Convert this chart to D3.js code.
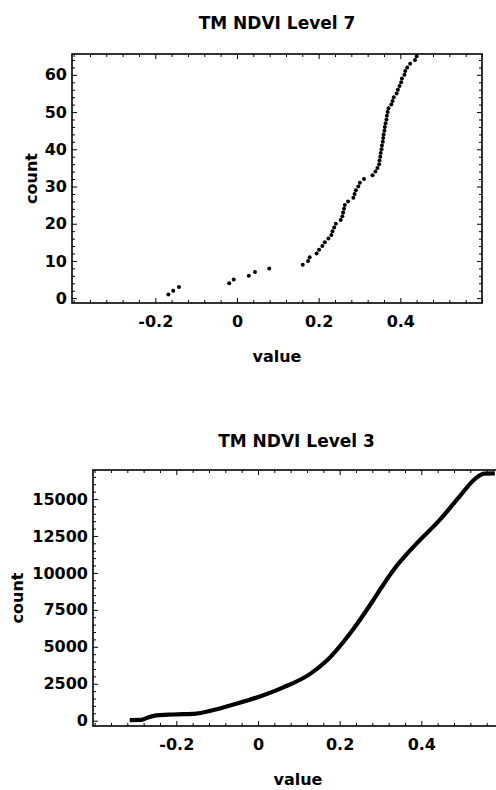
<!DOCTYPE html>
<html>
<head>
<meta charset="utf-8">
<script src="https://cdn.jsdelivr.net/npm/d3@7"></script>
<style>
  body { margin: 0; background: #fff; }
  text { font-family: "DejaVu Sans", sans-serif; font-weight: bold; fill: #000; }
</style>
</head>
<body>
<script>
// ---- data: TM NDVI Level 7 (cumulative count of sorted values)
const level7Values = [-0.168, -0.156, -0.142, -0.019, -0.008, 0.029, 0.044, 0.079, 0.161, 0.174,
  0.178, 0.195, 0.201, 0.209, 0.215, 0.224, 0.231, 0.234, 0.238, 0.242,
  0.254, 0.258, 0.260, 0.262, 0.264, 0.272, 0.285, 0.288, 0.291, 0.297,
  0.301, 0.311, 0.332, 0.339, 0.344, 0.348, 0.349, 0.351, 0.352, 0.354,
  0.355, 0.357, 0.358, 0.359, 0.361, 0.362, 0.364, 0.366, 0.367, 0.369,
  0.371, 0.378, 0.381, 0.384, 0.391, 0.394, 0.398, 0.402, 0.404, 0.410,
  0.412, 0.417, 0.424, 0.436, 0.440];
const level7Counts = [1, 2, 3, 4, 5, 6, 7, 8, 9, 10, 11, 12, 13, 14, 15, 16, 17, 18, 19, 20,
  21, 22, 23, 24, 25, 26, 27, 28, 29, 30, 31, 32, 33, 34, 35, 36, 37, 38, 39, 40,
  41, 42, 43, 44, 45, 46, 47, 48, 49, 50, 51, 52, 53, 54, 55, 56, 57, 58, 59, 60,
  61, 62, 63, 64, 65];

// ---- data: TM NDVI Level 3 (cumulative curve)
const level3Values = [-0.314, -0.286, -0.271, -0.255, -0.207, -0.151, -0.109, -0.060, 0.005,
  0.062, 0.127, 0.168, 0.224, 0.281, 0.308, 0.336, 0.362, 0.387, 0.444, 0.493, 0.533, 0.554, 0.580];
const level3Counts = [40, 50, 200, 330, 420, 480, 720, 1090, 1640,
  2250, 3150, 4050, 5850, 8100, 9250, 10350, 11200, 11950, 13550, 15150, 16400, 16720, 16740];

// ---- ticks
const xMajor = [-0.2, 0, 0.2, 0.4];
const xMinor = [-0.4, -0.36, -0.32, -0.28, -0.24, -0.16, -0.12, -0.08, -0.04, 0.04, 0.08, 0.12, 0.16,
  0.24, 0.28, 0.32, 0.36, 0.44, 0.48, 0.52, 0.56, 0.6];
const y7Major = [0, 10, 20, 30, 40, 50, 60];
const y7Minor = [2, 4, 6, 8, 12, 14, 16, 18, 22, 24, 26, 28, 32, 34, 36, 38, 42, 44, 46, 48,
  52, 54, 56, 58, 62, 64];
const y3Major = [0, 2500, 5000, 7500, 10000, 12500, 15000];
const y3Minor = [500, 1000, 1500, 2000, 3000, 3500, 4000, 4500, 5500, 6000, 6500, 7000,
  8000, 8500, 9000, 9500, 10500, 11000, 11500, 12000, 13000, 13500, 14000, 14500, 15500, 16000, 16500];

const width = 496, height = 790;
const svg = d3.select("body").append("svg")
  .attr("width", width).attr("height", height)
  .style("display", "block");
svg.append("rect").attr("width", width).attr("height", height).attr("fill", "#fff");

const fmtX = d => d === 0 ? "0" : d3.format(".1f")(d).replace("−", "-");

function framePanel(cfg) {
  const {x, y, title, titleY, yMajor, yMinor, countX} = cfg;
  const [l, r] = x.range();
  const [b, t] = y.range();
  const g = svg.append("g");

  // inward ticks on all four sides
  const bottom = g.append("g").attr("transform", `translate(0,${b})`);
  bottom.call(d3.axisBottom(x).tickValues(xMinor).tickSize(-3).tickFormat(""));
  bottom.append("g").call(d3.axisBottom(x).tickValues(xMajor).tickSize(-5).tickPadding(13).tickFormat(fmtX));
  const top = g.append("g").attr("transform", `translate(0,${t})`);
  top.call(d3.axisTop(x).tickValues(xMinor).tickSize(-3).tickFormat(""));
  top.append("g").call(d3.axisTop(x).tickValues(xMajor).tickSize(-5).tickFormat(""));
  const left = g.append("g").attr("transform", `translate(${l},0)`);
  left.call(d3.axisLeft(y).tickValues(yMinor).tickSize(-3).tickFormat(""));
  left.append("g").call(d3.axisLeft(y).tickValues(yMajor).tickSize(-5).tickPadding(5).tickFormat(d3.format("d")));
  const right = g.append("g").attr("transform", `translate(${r},0)`);
  right.call(d3.axisRight(y).tickValues(yMinor).tickSize(-3).tickFormat(""));
  right.append("g").call(d3.axisRight(y).tickValues(yMajor).tickSize(-5).tickFormat(""));

  g.selectAll(".domain").remove();
  g.selectAll(".tick line").attr("stroke", "#000").attr("stroke-width", 1);
  g.selectAll(".tick text")
    .style("font-family", '"DejaVu Sans", sans-serif')
    .style("font-weight", "bold")
    .style("font-size", "16px")
    .attr("fill", "#000");

  g.append("rect")
    .attr("x", l).attr("y", t)
    .attr("width", r - l).attr("height", b - t)
    .attr("fill", "none").attr("stroke", "#000").attr("stroke-width", 1.6);

  g.append("text")
    .attr("x", (l + Math.min(r, width)) / 2 + (r > width ? 2 : 0))
    .attr("y", titleY)
    .attr("text-anchor", "middle")
    .style("font-size", "17px")
    .text(title);

  g.append("text")
    .attr("x", (l + r) / 2)
    .attr("y", b + 59)
    .attr("text-anchor", "middle")
    .style("font-size", "16px")
    .text("value");

  g.append("text")
    .attr("transform", `translate(${countX},${(t + b) / 2}) rotate(-90)`)
    .attr("text-anchor", "middle")
    .style("font-size", "16px")
    .text("count");
}

// ---- top panel
const x7 = d3.scaleLinear().domain([-0.404, 0.6]).range([72, 482]);
const y7 = d3.scaleLinear().domain([-1.3, 65.6]).range([303, 54]);
framePanel({x: x7, y: y7, title: "TM NDVI Level 7", titleY: 29, yMajor: y7Major, yMinor: y7Minor, countX: 37});

svg.append("g").selectAll("circle")
  .data(level7Values.map((v, i) => ({v, c: level7Counts[i]})))
  .join("circle")
  .attr("cx", d => x7(d.v))
  .attr("cy", d => y7(d.c))
  .attr("r", 2)
  .attr("fill", "#000");

// ---- bottom panel
const x3 = d3.scaleLinear().domain([-0.404, 0.6]).range([93, 503]);
const y3 = d3.scaleLinear().domain([-359, 16962]).range([726, 470]);
framePanel({x: x3, y: y3, title: "TM NDVI Level 3", titleY: 447, yMajor: y3Major, yMinor: y3Minor, countX: 23});

const line3 = d3.line()
  .x((d, i) => x3(level3Values[i]))
  .y(d => y3(d))
  .curve(d3.curveMonotoneX);

svg.append("path")
  .datum(level3Counts)
  .attr("fill", "none")
  .attr("stroke", "#000")
  .attr("stroke-width", 4.2)
  .attr("stroke-linejoin", "round")
  .attr("d", line3);
</script>
</body>
</html>
